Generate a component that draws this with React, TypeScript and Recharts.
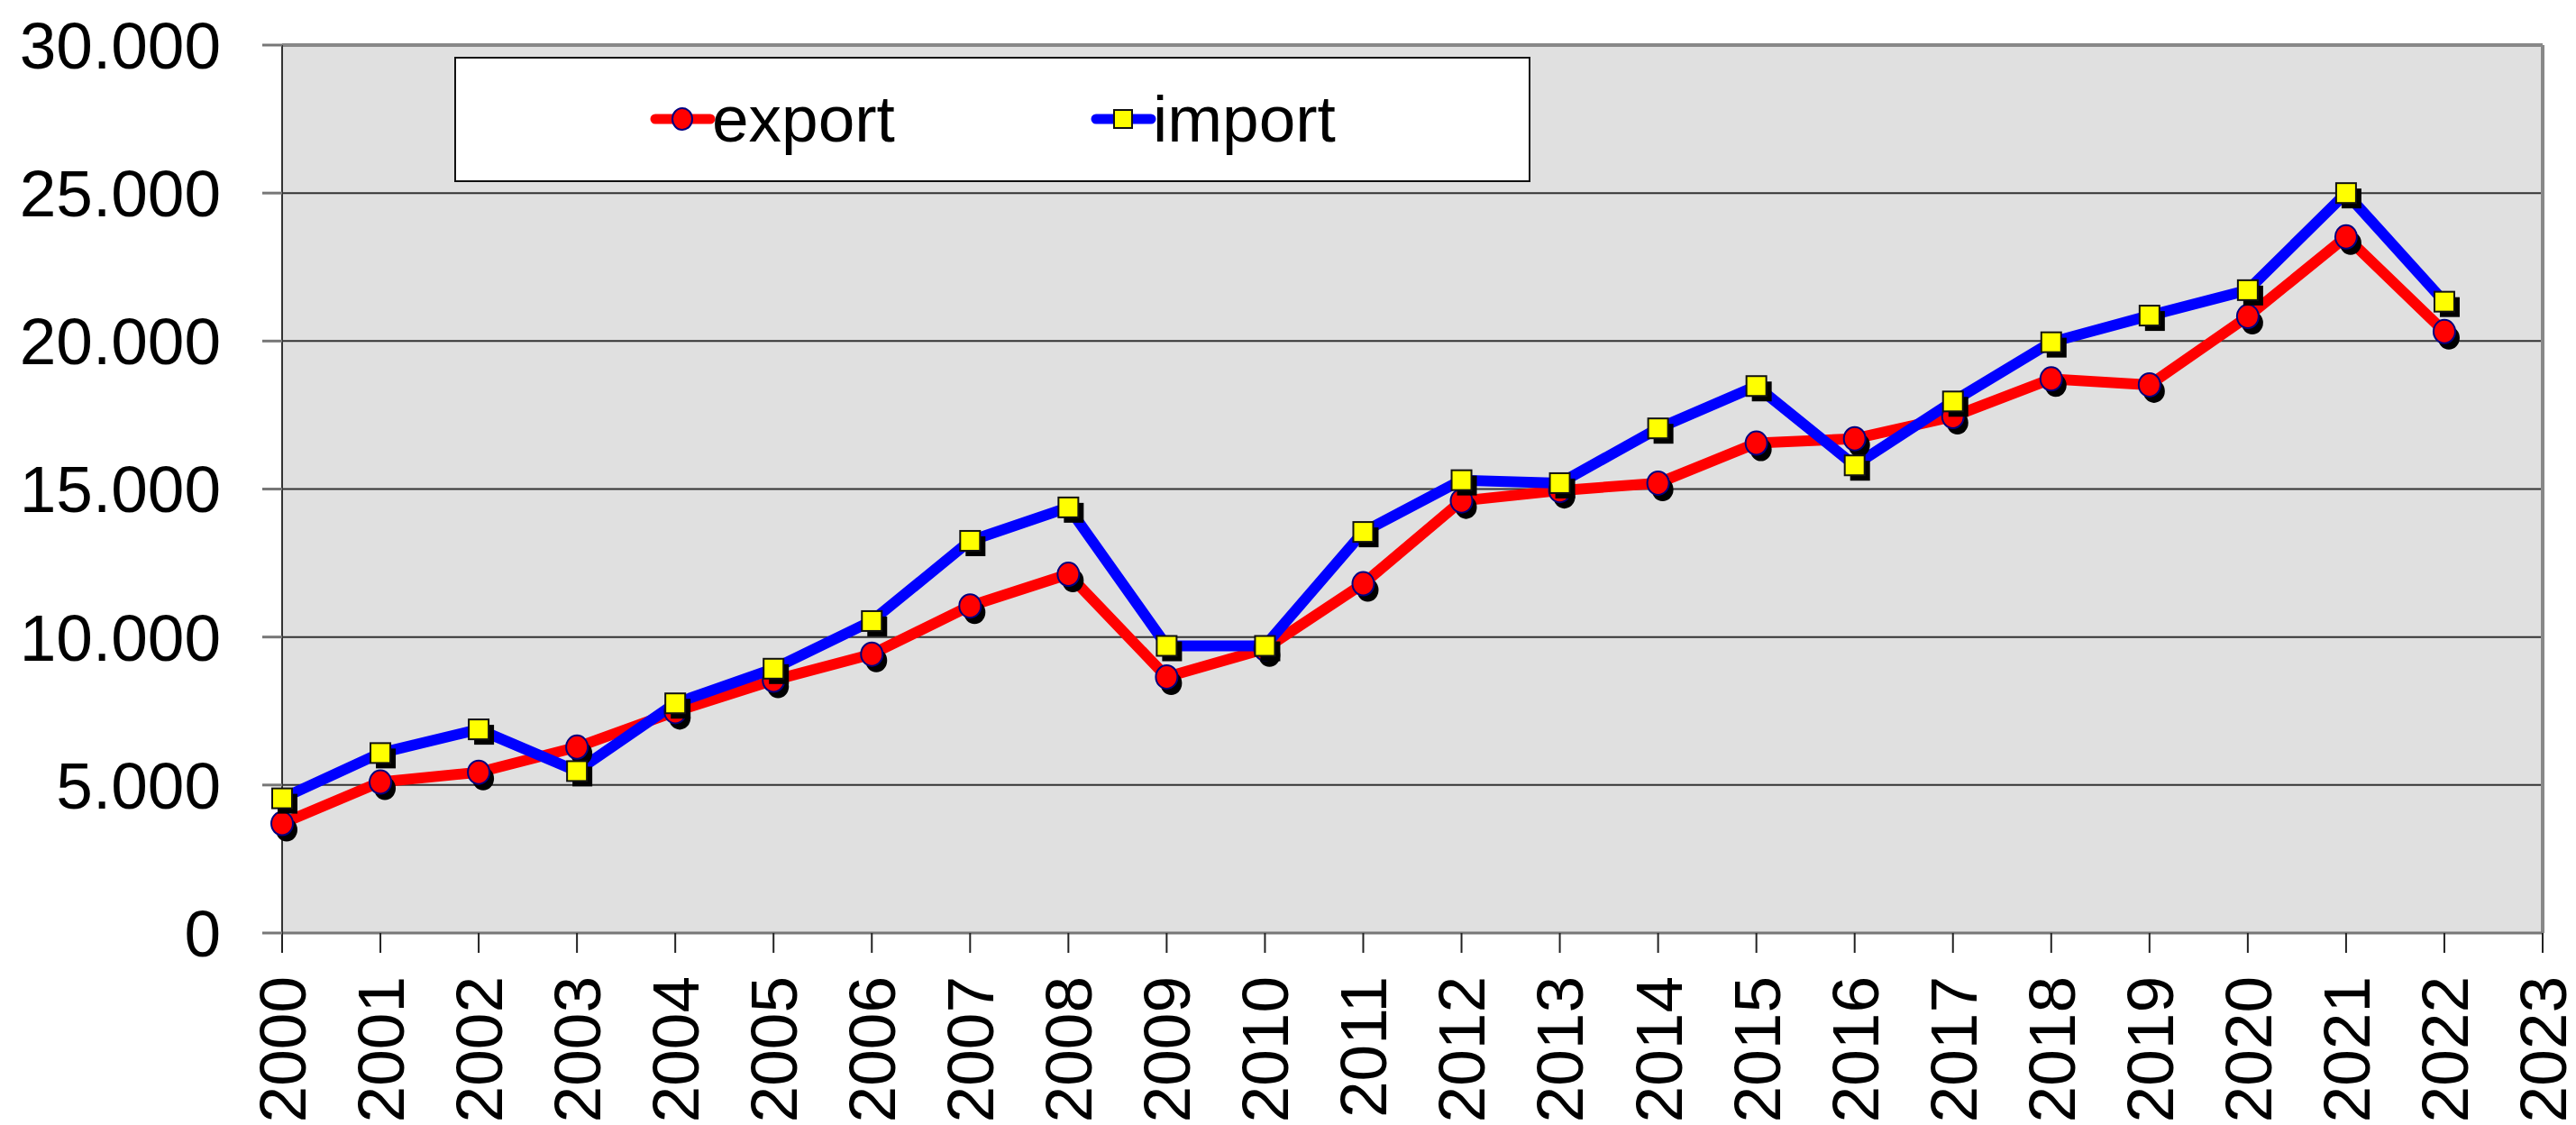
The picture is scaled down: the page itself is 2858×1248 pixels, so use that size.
import React from "react";
import {
  LineChart,
  Line,
  XAxis,
  YAxis,
  CartesianGrid,
  ReferenceLine,
  Legend,
} from "recharts";

const years = [
  2000, 2001, 2002, 2003, 2004, 2005, 2006, 2007, 2008, 2009, 2010, 2011,
  2012, 2013, 2014, 2015, 2016, 2017, 2018, 2019, 2020, 2021, 2022,
];

const exportValues = [
  3700, 5100, 5430, 6280, 7480, 8540, 9420, 11050, 12120, 8650, 9600, 11800,
  14600, 14950, 15200, 16550, 16700, 17450, 18720, 18520, 20830, 23520, 20320,
];

const importValues = [
  4550, 6080, 6880, 5470, 7760, 8930, 10540, 13250, 14380, 9700, 9700, 13550,
  15300, 15200, 17050, 18480, 15800, 17960, 19960, 20860, 21720, 25000, 21330,
];

const xTicks = [
  2000, 2001, 2002, 2003, 2004, 2005, 2006, 2007, 2008, 2009, 2010, 2011,
  2012, 2013, 2014, 2015, 2016, 2017, 2018, 2019, 2020, 2021, 2022, 2023,
];
const yTicks = [0, 5000, 10000, 15000, 20000, 25000, 30000];

const data = years.map((year, i) => ({
  year,
  export: exportValues[i],
  import: importValues[i],
}));

const FONT = "'Liberation Sans', Arial, sans-serif";
const fmt = (v: number) => String(v).replace(/\B(?=(\d{3})+(?!\d))/g, ".");

const CircleDot = (props: any) => {
  const { cx, cy, index } = props;
  if (cx == null || cy == null) return <g key={`c${index}`} />;
  return (
    <g key={`c${index}`}>
      <ellipse cx={cx + 5} cy={cy + 7} rx={12} ry={13} fill="#000" />
      <ellipse cx={cx} cy={cy} rx={12} ry={13} fill="#ff0000" stroke="#000080" strokeWidth={2} />
    </g>
  );
};

const SquareDot = (props: any) => {
  const { cx, cy, index } = props;
  if (cx == null || cy == null) return <g key={`s${index}`} />;
  return (
    <g key={`s${index}`}>
      <rect x={cx - 11 + 6} y={cy - 11 + 6} width={22} height={22} fill="#000" />
      <rect x={cx - 11} y={cy - 11} width={22} height={22} fill="#ffff00" stroke="#111" strokeWidth={2} />
    </g>
  );
};

const YTick = (props: any) => {
  const { x, y, payload } = props;
  return (
    <text x={x} y={y} dy="0.355em" textAnchor="end" fontSize={73} fontFamily={FONT} fill="#000">
      {fmt(payload.value)}
    </text>
  );
};

const XTick = (props: any) => {
  const { x, y, payload } = props;
  return (
    <text
      x={x}
      y={y}
      dy="0.355em"
      textAnchor="end"
      transform={`rotate(-90, ${x}, ${y})`}
      fontSize={73}
      fontFamily={FONT}
      fill="#000"
    >
      {payload.value}
    </text>
  );
};

const LegendBox = () => (
  <div style={{ width: 1194, height: 139, boxSizing: "border-box", border: "2px solid #111", background: "#fff" }}>
    <svg width={1190} height={135} style={{ display: "block" }}>
      <line x1={221} y1={67} x2={282} y2={67} stroke="#ff0000" strokeWidth={11} strokeLinecap="round" />
      <ellipse cx={251} cy={67} rx={11} ry={12} fill="#ff0000" stroke="#000080" strokeWidth={2} />
      <text x={284} y={92} fontSize={73} fontFamily={FONT} fill="#000">export</text>
      <line x1={710} y1={67} x2={771} y2={67} stroke="#0000ff" strokeWidth={11} strokeLinecap="round" />
      <rect x={730} y={57} width={20} height={20} fill="#ffff00" stroke="#111" strokeWidth={2} />
      <text x={773} y={92} fontSize={73} fontFamily={FONT} fill="#000">import</text>
    </svg>
  </div>
);

export default function App() {
  return (
    <div style={{ position: "absolute", left: 0, top: 0, width: 2858, height: 1248, background: "#fff" }}>
      <LineChart width={2858} height={1248} data={data} margin={{ top: 50, right: 37, bottom: 0, left: 0 }}>
        <CartesianGrid vertical={false} stroke="#333" strokeWidth={2} fill="#e0e0e0" fillOpacity={1} />
        <XAxis
          dataKey="year"
          type="number"
          domain={[2000, 2023]}
          ticks={xTicks}
          interval={0}
          height={213}
          tickSize={22}
          tickMargin={26}
          tickLine={{ stroke: "#222", strokeWidth: 2 }}
          axisLine={{ stroke: "#777", strokeWidth: 3 }}
          tick={<XTick />}
        />
        <YAxis
          type="number"
          domain={[0, 30000]}
          ticks={yTicks}
          interval={0}
          width={313}
          tickSize={22}
          tickMargin={46}
          tickLine={{ stroke: "#777", strokeWidth: 3 }}
          axisLine={{ stroke: "#333", strokeWidth: 2 }}
          tick={<YTick />}
        />
        <ReferenceLine y={30000} stroke="#888" strokeWidth={4} />
        <ReferenceLine x={2023} stroke="#888" strokeWidth={4} />
        <Legend
          layout="horizontal"
          verticalAlign="middle"
          align="center"
          wrapperStyle={{ left: 504, top: 63, width: 1194, height: 139 }}
          content={<LegendBox />}
        />
        <Line
          type="linear"
          dataKey="export"
          stroke="#ff0000"
          strokeWidth={12}
          strokeLinejoin="round"
          dot={CircleDot}
          activeDot={false}
          isAnimationActive={false}
        />
        <Line
          type="linear"
          dataKey="import"
          stroke="#0000ff"
          strokeWidth={12}
          strokeLinejoin="round"
          dot={SquareDot}
          activeDot={false}
          isAnimationActive={false}
        />
      </LineChart>
    </div>
  );
}
